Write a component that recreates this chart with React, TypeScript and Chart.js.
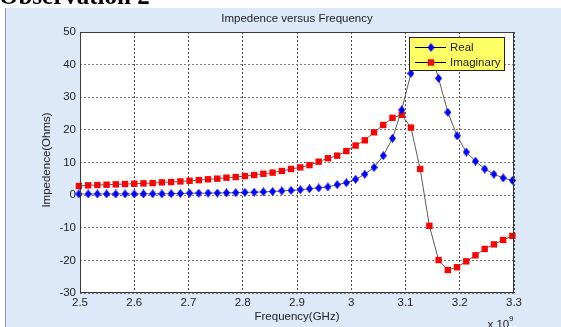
import React, { useEffect, useRef } from "react";
import { Chart, registerables } from "chart.js";

Chart.register(...registerables);

// ---- data ----
const frequencyGHz = [
  2.498, 2.515, 2.532, 2.549, 2.566, 2.583, 2.6, 2.617, 2.634, 2.651,
  2.668, 2.685, 2.702, 2.719, 2.736, 2.753, 2.77, 2.787, 2.804, 2.821,
  2.838, 2.855, 2.872, 2.889, 2.906, 2.923, 2.94, 2.957, 2.974, 2.991,
  3.008, 3.025, 3.042, 3.059, 3.076, 3.093, 3.11, 3.127, 3.144, 3.161,
  3.178, 3.195, 3.212, 3.229, 3.246, 3.263, 3.28, 3.297,
];
const realOhms = [
  0.35, 0.35, 0.35, 0.35, 0.35, 0.35, 0.35, 0.4, 0.4, 0.4,
  0.45, 0.5, 0.6, 0.6, 0.65, 0.65, 0.7, 0.75, 0.85, 0.9,
  1.0, 1.1, 1.3, 1.45, 1.65, 1.95, 2.2, 2.5, 3.2, 3.8,
  4.85, 6.4, 8.5, 12.1, 17.4, 26.1, 37.3, 47, 45, 35.8,
  25.4, 18.2, 13.2, 10.4, 8.0, 6.4, 5.25, 4.5,
];
const imaginaryOhms = [
  2.8, 3.0, 3.1, 3.2, 3.3, 3.4, 3.5, 3.6, 3.7, 3.9,
  4.0, 4.2, 4.4, 4.6, 4.85, 5.05, 5.35, 5.55, 5.85, 6.15,
  6.55, 6.9, 7.4, 8.0, 8.5, 9.2, 10.25, 11.3, 12.1, 13.5,
  15.2, 16.8, 19.25, 21.5, 23.7, 24.6, 20.7, 8.0, -9.4, -19.9,
  -22.95, -22.1, -20.3, -18.45, -16.5, -15.1, -13.75, -12.5,
];
const xTicks = [2.5, 2.6, 2.7, 2.8, 2.9, 3.0, 3.1, 3.2, 3.3];
const xTickLabels = ["2.5", "2.6", "2.7", "2.8", "2.9", "3", "3.1", "3.2", "3.3"];
const yTicks = [-30, -20, -10, 0, 10, 20, 30, 40, 50];
const yTickLabels = ["-30", "-20", "-10", "0", "10", "20", "30", "40", "50"];
const seriesNames = ["Real", "Imaginary"];

const FONT = '"Liberation Sans", Arial, Helvetica, sans-serif';
const FIG_BG = "#dde8f8";
const TEXT = "#222";

function makeDiamond(): HTMLCanvasElement {
  const c = document.createElement("canvas");
  c.width = 7;
  c.height = 9;
  const g = c.getContext("2d")!;
  g.fillStyle = "#0000ff";
  g.beginPath();
  g.moveTo(3.5, 0);
  g.lineTo(7, 4.5);
  g.lineTo(3.5, 9);
  g.lineTo(0, 4.5);
  g.closePath();
  g.fill();
  return c;
}

export default function App() {
  const ref = useRef<HTMLCanvasElement | null>(null);

  useEffect(() => {
    if (!ref.current) return;
    const diamond = makeDiamond();

    const decor = {
      id: "decor",
      beforeDraw(chart: any) {
        const { ctx, chartArea: a, width, height } = chart;
        ctx.save();
        ctx.fillStyle = "#ffffff";
        ctx.fillRect(0, 0, width, height);
        ctx.fillStyle = FIG_BG;
        ctx.fillRect(6, 8, width - 6, height - 8);
        ctx.fillStyle = "#9a9a9a";
        ctx.fillRect(5, 8, 1, height - 8);
        ctx.fillStyle = "#ffffff";
        ctx.fillRect(a.left, a.top, a.right - a.left, a.bottom - a.top);
        ctx.restore();
      },
      afterDatasetsDraw(chart: any) {
        const { ctx, chartArea: a } = chart;
        ctx.save();
        // axes box
        ctx.strokeStyle = "#3a3a3a";
        ctx.lineWidth = 1;
        ctx.strokeRect(a.left + 0.5, a.top + 0.5, a.right - a.left - 1, a.bottom - a.top - 1);

        // legend
        const lx = 409.5, ly = 37.5, lw = 95, lh = 33;
        ctx.fillStyle = "#ffff66";
        ctx.fillRect(lx, ly, lw, lh);
        ctx.strokeStyle = "#222";
        ctx.strokeRect(lx, ly, lw, lh);
        const rows = [47.5, 62.5];
        rows.forEach((ry, i) => {
          ctx.strokeStyle = "#000";
          ctx.lineWidth = 1;
          ctx.beginPath();
          ctx.moveTo(415, ry);
          ctx.lineTo(446, ry);
          ctx.stroke();
          if (i === 0) {
            ctx.drawImage(diamond, 431 - 3.5, ry - 4.5);
          } else {
            ctx.fillStyle = "#ff0000";
            ctx.fillRect(431 - 3.2, ry - 3.2, 6.4, 6.4);
          }
          ctx.fillStyle = TEXT;
          ctx.font = `11.5px ${FONT}`;
          ctx.textAlign = "left";
          ctx.textBaseline = "middle";
          ctx.fillText(seriesNames[i], 450, ry + 0.5);
        });
        ctx.restore();
      },
      afterDraw(chart: any) {
        const { ctx, chartArea: a } = chart;
        ctx.save();
        ctx.fillStyle = TEXT;
        ctx.font = `11.5px ${FONT}`;
        ctx.textAlign = "center";
        ctx.textBaseline = "alphabetic";
        const cx = (a.left + a.right) / 2;
        ctx.fillText("Impedence versus Frequency", cx, 22);
        ctx.fillText("Frequency(GHz)", cx, 320);
        ctx.save();
        ctx.translate(47, 160);
        ctx.rotate(-Math.PI / 2);
        ctx.textBaseline = "middle";
        ctx.fillText("Impedence(Ohms)", 0, 0);
        ctx.restore();
        ctx.textAlign = "left";
        ctx.fillText("x 10", 487.5, 328);
        ctx.font = `8px ${FONT}`;
        ctx.fillText("9", 509, 321);
        ctx.restore();
      },
    };

    const clip = { left: 8, right: 8, top: 0, bottom: 8 };

    const chart = new Chart(ref.current, {
      type: "line",
      data: {
        datasets: [
          {
            label: seriesNames[0],
            data: frequencyGHz.map((f, i) => ({ x: f, y: realOhms[i] })),
            borderColor: "#4a4a4a",
            borderWidth: 0.9,
            pointStyle: diamond as any,
            pointRadius: 4,
            pointBackgroundColor: "#0000ff",
            pointBorderWidth: 0,
            tension: 0,
            clip: clip as any,
          },
          {
            label: seriesNames[1],
            data: frequencyGHz.map((f, i) => ({ x: f, y: imaginaryOhms[i] })),
            borderColor: "#4a4a4a",
            borderWidth: 0.9,
            pointStyle: "rect",
            pointRadius: 4.5,
            pointBackgroundColor: "#ff0000",
            pointBorderColor: "#ff0000",
            pointBorderWidth: 0,
            tension: 0,
            clip: clip as any,
          },
        ],
      },
      options: {
        animation: false,
        responsive: false,
        devicePixelRatio: 1,
        events: [],
        layout: { padding: { left: 0, top: 32, right: 47, bottom: 0 } },
        plugins: {
          legend: { display: false },
          title: { display: false },
          tooltip: { enabled: false },
        },
        scales: {
          x: {
            type: "linear",
            min: 2.5,
            max: 3.3,
            afterFit: (s: any) => {
              s.height = 34;
            },
            afterBuildTicks: (s: any) => {
              s.ticks = xTicks.map((v) => ({ value: v }));
            },
            ticks: {
              autoSkip: false,
              maxRotation: 0,
              padding: 3,
              color: TEXT,
              font: { family: FONT, size: 11.5 },
              callback: (_v: any, i: number) => xTickLabels[i],
            },
            grid: { color: "#4a4a4a", lineWidth: 1, drawTicks: false },
            border: { display: false, dash: [2, 2] },
          },
          y: {
            type: "linear",
            min: -30,
            max: 50,
            afterFit: (s: any) => {
              s.width = 80;
            },
            afterBuildTicks: (s: any) => {
              s.ticks = yTicks.map((v) => ({ value: v }));
            },
            ticks: {
              autoSkip: false,
              padding: 4,
              color: TEXT,
              font: { family: FONT, size: 11.5 },
              callback: (_v: any, i: number) => yTickLabels[i],
            },
            grid: { color: "#7a7a7a", lineWidth: 1, drawTicks: false },
            border: { display: false, dash: [2, 2] },
          },
        },
      } as any,
      plugins: [decor],
    });

    return () => chart.destroy();
  }, []);

  return (
    <div style={{ position: "fixed", left: 0, top: 0, width: 561, height: 327, overflow: "hidden", background: "#fff" }}>
      <canvas ref={ref} width={561} height={327} style={{ display: "block", width: 561, height: 327 }} />
      <div
        style={{
          position: "absolute",
          left: -1,
          top: -16,
          font: 'bold 25px "Liberation Serif", "Times New Roman", serif',
          lineHeight: "24px",
          color: "#000",
          whiteSpace: "nowrap",
          zIndex: 2,
        }}
      >
        Observation 2
      </div>
    </div>
  );
}
